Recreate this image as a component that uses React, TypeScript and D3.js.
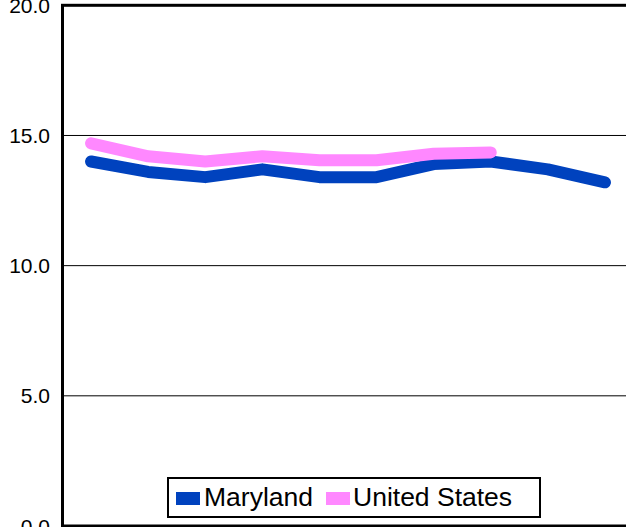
import React from "react";
import * as d3 from "d3";

const categories = ["1", "2", "3", "4", "5", "6", "7", "8", "9", "10"];
const maryland = [14.0, 13.6, 13.4, 13.7, 13.4, 13.4, 13.9, 14.0, 13.7, 13.2];
const unitedStates = [14.7, 14.2, 14.0, 14.2, 14.05, 14.05, 14.3, 14.35];
const yTicks = [0, 5, 10, 15, 20];
const seriesNames = ["Maryland", "United States"];
const seriesColors = ["#0042BE", "#FF88FF"];

const W = 626;
const H = 527;
const plotLeft = 62.5;
const plotRight = 633.5;
const plotTop = 5.3;
const plotBottom = 526;

export default function App() {
  const x = d3.scaleBand<string>().domain(categories).range([plotLeft, plotRight]);
  const y = d3.scaleLinear().domain([0, 20]).range([plotBottom, plotTop]);
  const cx = (i: number) => (x(categories[i]) as number) + x.bandwidth() / 2;
  const line = d3
    .line<number>()
    .x((_, i) => cx(i))
    .y((d) => y(d));
  const series = [maryland, unitedStates];

  return (
    <svg
      width={W}
      height={H}
      style={{ position: "absolute", left: 0, top: 0, background: "#fff" }}
      fontFamily="'Liberation Sans', Arial, sans-serif"
    >
      <rect x={0} y={0} width={W} height={H} fill="#fff" />
      {yTicks.map((t) => (
        <g key={t}>
          {t > 0 && t < 20 && (
            <line x1={plotLeft} x2={plotRight} y1={y(t)} y2={y(t)} stroke="#000" strokeWidth={1} />
          )}
          <text x={50} y={y(t)} dy="0.36em" textAnchor="end" fontSize={21} fill="#000">
            {t.toFixed(1)}
          </text>
        </g>
      ))}
      <rect
        x={plotLeft}
        y={plotTop}
        width={plotRight - plotLeft}
        height={plotBottom - plotTop}
        fill="none"
        stroke="#000"
        strokeWidth={3}
      />
      {series.map((s, k) => (
        <path
          key={k}
          d={line(s) as string}
          fill="none"
          stroke={seriesColors[k]}
          strokeWidth={12}
          strokeLinecap="round"
          strokeLinejoin="round"
        />
      ))}
      <g>
        <rect x={168} y={478} width={372} height={39} fill="#fff" stroke="#000" strokeWidth={2} />
        <rect x={176} y={492} width={24} height={13} fill={seriesColors[0]} />
        <text x={204} y={506} fontSize={26.5} fill="#000">
          {seriesNames[0]}
        </text>
        <rect x={326} y={492} width={24} height={13} fill={seriesColors[1]} />
        <text x={353} y={506} fontSize={26.5} fill="#000">
          {seriesNames[1]}
        </text>
      </g>
    </svg>
  );
}
